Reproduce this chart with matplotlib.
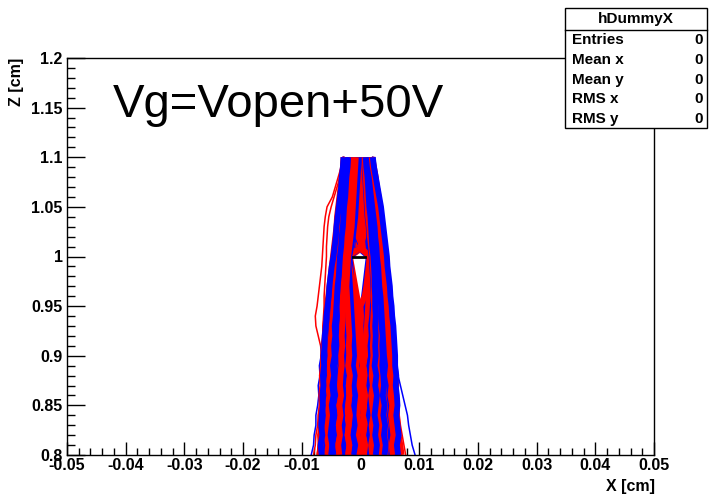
import numpy as np
import matplotlib.pyplot as plt
from matplotlib.patches import Rectangle
from matplotlib.lines import Line2D
from matplotlib.ticker import MultipleLocator, FuncFormatter

plt.rcParams['font.family'] = ['Liberation Sans', 'DejaVu Sans']

z_levels = [0.80, 0.81, 0.82, 0.83, 0.84, 0.85, 0.86, 0.87, 0.88, 0.89,
            0.90, 0.91, 0.92, 0.93, 0.94, 0.95, 0.96, 0.97, 0.98, 0.99,
            1.00, 1.01, 1.02, 1.03, 1.04, 1.05, 1.06, 1.07, 1.08, 1.09, 1.10]

# drift lines, x in units of 1e-4 cm (one value per z level)
blue_lines = [
    [-67,-66,-68,-65,-64,-66,-63,-64,-62,-63,-61,-60,-60,-57,-56,-55,-52,-51,-49,-47,-45,-43,-41,-40,-38,-36,-34,-33,-31,-29,-28],
    [-52,-55,-53,-50,-52,-49,-51,-48,-50,-47,-49,-46,-47,-45,-44,-42,-43,-40,-39,-38,-36,-34,-33,-31,-30,-28,-27,-25,-24,-22,-21],
    [-38,-40,-37,-39,-36,-38,-35,-37,-34,-36,-33,-34,-32,-33,-31,-30,-31,-29,-28,-27,-26,-24,-23,-22,-21,-20,-19,-18,-17,-16,-15],
    [-20,-22,-19,-21,-18,-20,-17,-19,-16,-18,-17,-18,-16,-17,-18,-19,-20,-21,-20,-19,-19,-14,-13,-12,-11,-10,-9,-8,-8,-7,-6],
    [0,-3,2,-1,3,1,-2,2,0,3,1,2,1,2,2,3,6,8,10,12,14,-6,-3,-2,-1,0,0,0,-1,-1,-1],
    [30,28,26,25,22,20,17,15,12,10,7,4,1,-2,-5,-8,-11,-14,-17,-20,-23,-21,-19,-17,-15,-14,-12,-10,-9,-8,-7],
    [37,35,38,36,34,37,35,36,33,35,34,33,34,32,31,32,30,29,29,28,27,25,24,23,21,20,19,17,16,14,13],
    [58,56,59,57,55,57,54,56,53,55,52,53,51,50,49,47,46,45,43,42,40,39,37,36,34,32,30,28,25,22,20],
    [-60,-58,-61,-59,-57,-58,-56,-57,-55,-56,-54,-53,-53,-51,-50,-48,-47,-45,-44,-42,-40,-39,-37,-35,-34,-32,-31,-29,-28,-26,-25],
    [-25,-27,-24,-26,-23,-25,-22,-24,-21,-23,-22,-24,-23,-24,-25,-26,-27,-28,-27,-26,-25,-23,-21,-19,-18,-17,-15,-14,-13,-12,-11],
    [5,3,6,2,5,7,4,6,3,5,7,6,8,7,6,7,9,11,13,15,18,-2,3,4,4,3,3,3,2,1,1],
    [32,30,33,31,29,32,30,31,28,30,29,31,29,28,27,28,26,27,26,25,24,22,21,20,18,17,16,15,14,12,11],
    [52,54,51,53,50,52,49,51,48,50,47,48,46,45,44,43,41,40,39,38,37,35,34,32,31,29,27,25,23,21,19],
    [-46,-48,-45,-47,-44,-46,-43,-45,-42,-44,-41,-42,-40,-41,-39,-38,-37,-36,-35,-34,-32,-30,-29,-28,-26,-25,-24,-22,-21,-20,-19],
    [-6,-8,-5,-7,-4,-6,-8,-5,-7,-6,-8,-9,-10,-11,-12,-13,-14,-15,-16,-17,-19,2,-6,-7,-7,-6,-5,-4,-4,-3,-2],
    [12,10,13,11,14,12,10,13,11,14,12,13,14,15,16,17,18,19,18,17,16,14,12,11,9,8,7,6,5,4,3],
    [60,58,56,55,53,52,50,49,47,46,44,43,41,40,39,37,36,35,34,33,32,30,29,28,26,25,23,22,20,18,16],
    [-35,-33,-36,-34,-32,-35,-33,-34,-31,-33,-32,-33,-31,-30,-29,-30,-29,-28,-27,-26,-25,-24,-23,-21,-20,-19,-18,-17,-15,-14,-13],
    [-66,-68,-65,-67,-66,-64,-65,-63,-64,-62,-63,-61,-61,-59,-58,-56,-54,-53,-51,-49,-46,-44,-42,-41,-39,-37,-35,-33,-32,-30,-29],
    [-31,-29,-32,-30,-33,-31,-29,-30,-28,-30,-29,-27,-28,-26,-27,-28,-27,-26,-25,-24,-23,-22,-21,-20,-19,-18,-17,-16,-15,-14,-13],
    [-12,-9,-13,-10,-12,-11,-9,-12,-10,-13,-11,-12,-13,-14,-15,-16,-17,-18,-19,-20,-19,-16,-13,-11,-9,-8,-7,-6,-5,-4,-3],
    [16,18,15,17,19,16,18,15,17,16,18,17,19,18,20,21,22,22,21,20,19,17,15,14,12,11,10,9,8,7,6],
    [26,28,25,27,24,26,28,25,27,24,26,25,26,25,26,25,25,24,24,23,22,20,19,18,17,15,14,13,12,10,9],
    [41,43,40,42,39,41,38,40,39,37,38,37,38,36,35,35,34,33,32,31,30,29,28,26,25,24,22,21,19,17,15],
    [64,62,65,63,61,63,62,60,61,59,59,58,57,56,54,53,51,50,48,46,45,43,41,39,37,35,32,29,26,23,21],
    [-50,-48,-51,-49,-47,-49,-46,-48,-45,-47,-44,-45,-43,-44,-42,-41,-40,-39,-37,-36,-35,-33,-32,-30,-29,-28,-26,-25,-24,-22,-21],
]
red_lines = [
    [-64,-66,-63,-65,-62,-63,-64,-61,-62,-60,-61,-58,-57,-56,-54,-53,-51,-49,-48,-46,-44,-42,-41,-39,-37,-35,-34,-32,-30,-28,-27],
    [-48,-46,-49,-47,-45,-47,-44,-46,-43,-45,-42,-44,-41,-42,-40,-41,-38,-37,-36,-34,-33,-31,-30,-29,-27,-26,-25,-23,-22,-21,-20],
    [-30,-33,-29,-31,-28,-30,-27,-29,-26,-28,-25,-27,-24,-26,-24,-25,-23,-24,-22,-21,-20,-19,-18,-17,-16,-15,-14,-13,-12,-11,-10],
    [-10,-12,-8,-11,-9,-7,-10,-8,-11,-9,-10,-12,-11,-13,-14,-15,-16,-17,-17,-18,-19,-10,-10,-8,-7,-6,-5,-4,-3,-3,-2],
    [8,6,10,7,9,11,8,10,7,9,10,11,10,12,13,14,15,16,15,15,16,10,9,7,6,5,4,3,2,2,1],
    [-30,-27,-25,-22,-20,-17,-15,-12,-10,-7,-5,-2,1,4,7,10,13,16,18,20,22,20,18,16,14,13,11,10,9,8,7],
    [47,49,46,48,45,47,44,46,45,43,44,42,43,41,40,39,38,37,36,35,34,32,31,29,28,26,25,23,21,19,17],
    [70,68,65,63,62,62,59,61,58,59,57,56,55,53,52,50,49,47,46,44,42,41,39,37,35,33,31,28,26,23,20],
    [-42,-44,-41,-43,-40,-42,-39,-41,-38,-40,-37,-38,-36,-37,-35,-36,-34,-33,-32,-31,-29,-28,-27,-25,-24,-23,-21,-20,-19,-18,-17],
    [-2,-5,-1,-4,0,-3,-1,-4,-2,-5,-3,-4,-2,-3,-2,-3,-6,-9,-12,-15,-18,6,2,1,0,-1,-1,-1,-1,-1,-1],
    [14,17,13,16,12,15,13,16,14,12,15,14,16,15,17,18,19,20,19,18,17,15,13,12,10,9,8,7,6,5,4],
    [20,22,24,26,28,30,32,33,35,36,38,38,37,36,35,34,34,33,32,31,30,28,27,26,24,23,22,20,19,17,15],
    [-57,-55,-58,-56,-54,-56,-53,-55,-52,-53,-51,-52,-50,-49,-47,-46,-45,-43,-42,-40,-39,-37,-36,-34,-33,-31,-30,-28,-27,-25,-24],
    [-17,-14,-18,-15,-16,-13,-17,-14,-15,-13,-16,-15,-17,-18,-19,-20,-21,-22,-21,-19,-20,-16,-14,-13,-12,-10,-9,-8,-7,-6,-5],
    [2,0,4,1,3,-1,2,0,3,1,4,3,1,0,1,0,7,10,12,14,16,-4,-2,0,1,1,1,0,0,0,0],
    [23,21,24,22,20,23,21,22,24,22,21,23,22,24,23,24,23,24,23,22,21,19,18,16,15,14,12,11,10,9,8],
    [-24,-22,-25,-23,-21,-24,-22,-23,-20,-22,-21,-23,-22,-23,-24,-25,-25,-26,-25,-24,-23,-21,-19,-18,-17,-16,-14,-13,-12,-11,-10],
    [36,34,35,33,37,34,32,35,33,31,32,30,31,30,29,30,29,28,27,26,25,24,22,21,20,19,17,16,15,13,12],
    [-70,-68,-69,-67,-68,-66,-67,-65,-66,-64,-64,-62,-61,-60,-58,-57,-55,-53,-51,-49,-47,-45,-43,-41,-40,-38,-36,-34,-32,-30,-29],
    [-4,-1,-5,-2,-6,-3,-5,-2,-4,-7,-5,-8,-7,-8,-7,-8,-10,-13,-16,-19,-22,3,-4,-5,-5,-4,-4,-3,-2,-2,-1],
    [6,9,5,8,4,7,9,6,8,5,8,9,10,11,12,13,14,15,16,16,15,0,5,6,5,4,3,2,1,1,0],
    [20,18,21,19,22,20,18,21,19,20,22,21,22,21,22,23,22,23,22,21,20,18,16,15,13,12,11,10,9,8,7],
    [39,37,40,38,36,39,37,38,36,37,35,36,35,34,33,32,31,31,30,29,28,27,25,24,23,22,20,19,17,16,14],
    [55,53,56,54,52,54,51,53,50,52,50,49,48,47,46,45,44,42,41,40,38,37,35,34,32,30,28,26,24,21,19],
    [-36,-38,-35,-37,-34,-36,-33,-35,-34,-32,-33,-31,-32,-31,-30,-31,-30,-29,-28,-27,-26,-25,-24,-23,-22,-21,-19,-18,-17,-16,-14],
    [-21,-19,-22,-20,-18,-21,-19,-20,-18,-21,-19,-20,-19,-20,-21,-22,-23,-24,-23,-22,-21,-19,-17,-15,-14,-13,-12,-11,-10,-9,-8],
]
# thin stray lines outside the main bundle
blue_stray = [
    [93,88,85,82,80,76,72,68,64,62,60,59,57,55,53,52,50,48,47,45,43,42,40,38,36,34,32,29,26,23,21],
    [-84,-80,-79,-76,-76,-73,-71,-72,-69,-70,-67,-67,-64,-63,-60,-59,-56,-55,-52,-51,-48,-47,-44,-43,-40,-39,-36,-35,-32,-31,-29],
]
red_stray = [
    [-74,-72,-70,-68,-67,-66,-65,-64,-66,-64,-66,-68,-72,-76,-77,-74,-72,-70,-68,-66,-65,-64,-63,-62,-60,-57,-48,-43,-38,-33,-30],
    [-80,-77,-76,-73,-72,-70,-69,-68,-67,-66,-66,-65,-64,-64,-63,-62,-62,-61,-60,-59,-58,-58,-57,-56,-54,-50,-45,-40,-35,-31,-28],
    [77,74,71,68,66,64,62,61,60,59,58,57,56,55,53,51,50,48,47,45,43,42,40,38,36,34,31,28,26,23,21],
]

# top edge of the hole
wire_x = [-0.0013, 0.0008]
wire_z = [1.0, 1.0]

stat_names = ['Entries', 'Mean x', 'Mean y', 'RMS x', 'RMS y']
stat_vals = ['0', '0', '0', '0', '0']

W, H = 713, 499
fig = plt.figure(figsize=(W / 100, H / 100), dpi=100)
ax = fig.add_axes([67 / W, 1 - 455 / H, (654 - 67) / W, (455 - 58) / H])

z = np.array(z_levels)
for s in red_stray:
    ax.plot(np.array(s) * 1e-4, z, color='#ff0000', lw=1.1)
for s in blue_stray:
    ax.plot(np.array(s) * 1e-4, z, color='#0000ff', lw=1.1)
for i, (b, r) in enumerate(zip(blue_lines, red_lines)):
    pair = [(r, '#ff0000'), (b, '#0000ff')]
    if i % 2:
        pair = pair[::-1]
    for line, col in pair:
        ax.plot(np.array(line) * 1e-4, z, color=col, lw=4.2, solid_capstyle='butt')
ax.plot(wire_x, wire_z, color='black', lw=2)

ax.set_xlim(-0.05, 0.05)
ax.set_ylim(0.8, 1.2)
ax.xaxis.set_major_locator(MultipleLocator(0.01))
ax.xaxis.set_minor_locator(MultipleLocator(0.002))
ax.yaxis.set_major_locator(MultipleLocator(0.05))
ax.yaxis.set_minor_locator(MultipleLocator(0.01))
fmt = FuncFormatter(lambda v, p: ('%g' % round(v, 4)) if abs(v) > 1e-9 else '0')
ax.xaxis.set_major_formatter(fmt)
ax.yaxis.set_major_formatter(fmt)
ax.tick_params(axis='x', which='major', direction='in', length=9.5, width=1, pad=2)
ax.tick_params(axis='x', which='minor', direction='in', length=5, width=1)
ax.tick_params(axis='y', which='major', direction='in', length=13, width=1, pad=3)
ax.tick_params(axis='y', which='minor', direction='in', length=6, width=1)
for lab in ax.get_xticklabels() + ax.get_yticklabels():
    lab.set_fontweight('bold')
    lab.set_fontsize(11.5)
for s in ax.spines.values():
    s.set_linewidth(1)

fig.text(655 / W, 1 - 486 / H, 'X [cm]', ha='right', va='center',
         fontsize=11.5, fontweight='bold')
fig.text(17 / W, 1 - 58 / H, 'Z [cm]', ha='center', va='top', rotation=90,
         fontsize=11.5, fontweight='bold')
fig.text(113 / W, 1 - 117 / H, 'Vg=Vopen+50V', ha='left', va='baseline',
         fontsize=34)

# stats box
bx0, bx1, by0, by1 = 565, 707, 8, 128
fig.add_artist(Rectangle((bx0 / W, 1 - by1 / H), (bx1 - bx0) / W, (by1 - by0) / H,
                         transform=fig.transFigure, fc='white', ec='black', lw=1, zorder=5))
fig.add_artist(Line2D([bx0 / W, bx1 / W], [1 - 30 / H, 1 - 30 / H],
                      transform=fig.transFigure, color='black', lw=1, zorder=6))
fig.text((bx0 + bx1) / 2 / W, 1 - 19 / H, 'hDummyX', ha='center', va='center',
         fontsize=11, fontweight='bold', zorder=7)
for i, (n, v) in enumerate(zip(stat_names, stat_vals)):
    yy = 1 - (40 + i * 19.8) / H
    fig.text(572 / W, yy, n, ha='left', va='center', fontsize=11, fontweight='bold', zorder=7)
    fig.text(703 / W, yy, v, ha='right', va='center', fontsize=11, fontweight='bold', zorder=7)

fig.savefig('out.png', dpi=100)
